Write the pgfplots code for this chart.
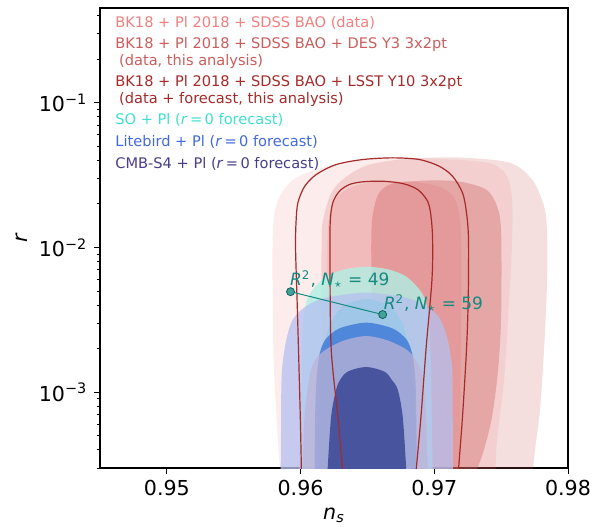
\documentclass[border=0pt]{standalone}
\usepackage{fontspec}
\setmainfont{DejaVu Sans}
\usepackage{pgfplots}
\pgfplotsset{compat=1.18}

\definecolor{bkcol}{RGB}{240,128,128}
\definecolor{descol}{RGB}{205,92,92}
\definecolor{lsstcol}{RGB}{165,42,42}
\definecolor{socol}{RGB}{64,224,208}
\definecolor{lbcol}{RGB}{65,105,225}
\definecolor{sfourcol}{RGB}{72,61,139}
\definecolor{sofill}{RGB}{176,240,228}
\definecolor{lbfill}{RGB}{180,192,240}
\definecolor{lbinner}{RGB}{60,120,215}
\definecolor{sfourfill}{RGB}{190,180,215}
\definecolor{sfourinner}{RGB}{64,76,154}
\definecolor{annot}{RGB}{20,138,128}

\newcommand{\tickfont}{\fontsize{10.3}{12}\selectfont}
\newcommand{\legfont}{\fontsize{7.3}{8.8}\selectfont}
\newcommand{\annfont}{\fontsize{8.5}{10}\selectfont}

\begin{document}
\begin{tikzpicture}
\begin{axis}[
    scale only axis, width=234pt, height=230pt,
    xmin=0.945, xmax=0.98,
    ymode=log, ymin=3e-4, ymax=0.45,
    xtick={0.95,0.96,0.97,0.98},
    xticklabels={0.95,0.96,0.97,0.98},
    ytick={1e-3,1e-2,1e-1},
    yticklabels={10\textsuperscript{−3},10\textsuperscript{−2},10\textsuperscript{−1}},
    minor ytick={3e-4,4e-4,5e-4,6e-4,7e-4,8e-4,9e-4,
                 2e-3,3e-3,4e-3,5e-3,6e-3,7e-3,8e-3,9e-3,
                 2e-2,3e-2,4e-2,5e-2,6e-2,7e-2,8e-2,9e-2,
                 2e-1,3e-1,4e-1},
    tick pos=left, tick align=outside,
    major tick length=2.8pt, minor tick length=1.6pt,
    every tick/.append style={black, line width=0.45pt},
    axis line style={line width=0.55pt},
    tick label style={font=\tickfont},
    xlabel={\textit{n}\textsubscript{\textit{s}}},
    ylabel={\textit{r}},
    every axis x label/.style={at={(axis description cs:0.5,-0.102)}, anchor=center, font=\tickfont},
    every axis y label/.style={at={(axis description cs:-0.167,0.5)}, rotate=90, anchor=center, font=\tickfont},
]

% BK18 + Pl 2018 + SDSS BAO (data), 95%
\addplot[draw=none, fill=bkcol, fill opacity=0.15, smooth] coordinates {
 (0.958507,0.00025119) (0.958209,0.00065147) (0.957985,0.0016888) (0.957910,0.0043782)
 (0.957910,0.011354) (0.958060,0.017433) (0.958433,0.022470) (0.959179,0.028068)
 (0.960149,0.031878) (0.961940,0.036192) (0.964403,0.040450) (0.966866,0.041753)
 (0.969627,0.041096) (0.972612,0.039811) (0.974478,0.037360) (0.975448,0.030881)
 (0.975821,0.021430) (0.975821,0.011354) (0.975597,0.0043782) (0.975224,0.0012293)
 (0.974701,0.00047415) (0.974552,0.00025119)};
% DES Y3, 95%
\addplot[draw=none, fill=descol, fill opacity=0.2, smooth] coordinates {
 (0.961940,0.00025119) (0.961716,0.00089474) (0.961567,0.0031878) (0.961567,0.0096874)
 (0.961642,0.014872) (0.962313,0.023950) (0.963433,0.030881) (0.965149,0.037360)
 (0.968134,0.041096) (0.971866,0.041753) (0.975597,0.038566) (0.977313,0.029437)
 (0.978209,0.019173) (0.978433,0.012689) (0.978433,0.0057362) (0.978209,0.0019791)
 (0.977910,0.00076338) (0.977537,0.00040450) (0.977313,0.00025119)};
% BK18 data, 68%
\addplot[draw=none, fill=bkcol, fill opacity=0.25, smooth] coordinates {
 (0.962164,0.00025119) (0.962015,0.00089474) (0.962015,0.0043782) (0.962015,0.011354)
 (0.962164,0.016888) (0.962687,0.022117) (0.963657,0.025934) (0.965149,0.028068)
 (0.966940,0.028517) (0.968881,0.028068) (0.970522,0.025934) (0.971493,0.022117)
 (0.971866,0.016888) (0.972015,0.011354) (0.972015,0.0031878) (0.971940,0.00089474)
 (0.971866,0.00025119)};
% DES Y3, 68%
\addplot[draw=none, fill=descol, fill opacity=0.35, smooth] coordinates {
 (0.965299,0.00025119) (0.965299,0.00089474) (0.965299,0.0043782) (0.965299,0.013310)
 (0.965522,0.019173) (0.965896,0.023950) (0.966866,0.027627) (0.969403,0.028973)
 (0.971866,0.028517) (0.973881,0.025119) (0.974701,0.019173) (0.975000,0.012689)
 (0.975000,0.0033430) (0.974776,0.0014409) (0.974328,0.00068319) (0.973731,0.00040450)
 (0.973209,0.00029437) (0.972985,0.00025119)};

% SO + Pl, 95%
\addplot[draw=none, fill=sofill, fill opacity=0.8, smooth] coordinates {
 (0.959925,0.00025119) (0.960000,0.00065147) (0.960075,0.0014409) (0.960172,0.0028517)
 (0.960425,0.0041753) (0.960918,0.0051330) (0.961918,0.0063096) (0.963284,0.0070519)
 (0.964925,0.0073596) (0.966567,0.0070519) (0.967888,0.0063096) (0.968881,0.0051330)
 (0.969381,0.0041753) (0.969627,0.0028517) (0.969754,0.0014409) (0.969813,0.00065147)
 (0.969888,0.00025119)};
% SO + Pl, 68%
\addplot[draw=none, fill=socol, fill opacity=0.7, smooth] coordinates {
 (0.961269,0.00025119) (0.961343,0.00065147) (0.961493,0.0014409) (0.961866,0.0023200)
 (0.962388,0.0031878) (0.963284,0.0039811) (0.964925,0.0044131) (0.966567,0.0039811)
 (0.967463,0.0031878) (0.967985,0.0023200) (0.968358,0.0014409) (0.968507,0.00065147)
 (0.968582,0.00025119)};
% Litebird + Pl, 95%
\addplot[draw=none, fill=lbfill, fill opacity=0.75, smooth] coordinates {
 (0.958507,0.00025119) (0.958545,0.00065147) (0.958560,0.0010487) (0.958634,0.0015184)
 (0.958933,0.0023200) (0.959425,0.0031878) (0.960425,0.0039371) (0.961918,0.0044978)
 (0.964903,0.0048710) (0.967888,0.0044978) (0.969381,0.0039371) (0.970373,0.0032746)
 (0.970993,0.0023200) (0.971321,0.0015184) (0.971366,0.0010487) (0.971381,0.00065147)
 (0.971381,0.00025119)};
% Litebird + Pl, 68%
\addplot[draw=none, fill=lbinner, fill opacity=0.8, smooth] coordinates {
 (0.961045,0.00025119) (0.961082,0.00065147) (0.961194,0.0012293) (0.961418,0.0018290)
 (0.961866,0.0023200) (0.962910,0.0027627) (0.964903,0.0030245) (0.966866,0.0027627)
 (0.967910,0.0023200) (0.968358,0.0018290) (0.968582,0.0012293) (0.968657,0.00065147)
 (0.968694,0.00025119)};
% CMB-S4 + Pl, 95%
\addplot[draw=none, fill=sfourfill, fill opacity=0.73, smooth] coordinates {
 (0.960149,0.00025119) (0.960172,0.00031028) (0.960299,0.00068646) (0.960672,0.0012954)
 (0.961119,0.0016888) (0.961918,0.0019791) (0.963284,0.0022835) (0.964903,0.0024450)
 (0.966493,0.0022835) (0.967888,0.0019791) (0.968582,0.0016888) (0.969127,0.0012954)
 (0.969381,0.00068646) (0.969500,0.00031028) (0.969515,0.00025119)};
% CMB-S4 + Pl, 68%
\addplot[draw=none, fill=sfourinner, fill opacity=0.9, smooth] coordinates {
 (0.962015,0.00025119) (0.962037,0.00031028) (0.962291,0.00068646) (0.962664,0.0010487)
 (0.962985,0.0012293) (0.963410,0.0013674) (0.964104,0.0014524) (0.964903,0.0014945)
 (0.965672,0.0014524) (0.966396,0.0013674) (0.966791,0.0012293) (0.967261,0.0010487)
 (0.967634,0.00068646) (0.967888,0.00031028) (0.967910,0.00025119)};

% LSST Y10 forecast contours (lines)
\addplot[lsstcol, line width=0.6pt, smooth] coordinates {
 (0.960075,0.00025119) (0.959978,0.00068319) (0.959776,0.0033430) (0.959627,0.0096874)
 (0.959664,0.015110) (0.959799,0.020335) (0.960299,0.026349) (0.961172,0.031878)
 (0.962664,0.037360) (0.964649,0.040450) (0.966888,0.041555) (0.968881,0.040450)
 (0.970373,0.036365) (0.971366,0.031028) (0.972112,0.023836) (0.972410,0.017350)
 (0.972560,0.011354) (0.972537,0.0043782) (0.972410,0.0019791) (0.972112,0.00068319)
 (0.971754,0.00025119)};
\addplot[lsstcol, line width=0.6pt, smooth] coordinates {
 (0.963209,0.00025119) (0.962784,0.00068319) (0.962291,0.0019791) (0.962201,0.0070519)
 (0.962216,0.014801) (0.962410,0.020335) (0.962910,0.024450) (0.963657,0.027192)
 (0.964649,0.028381) (0.966142,0.028653) (0.967634,0.027627) (0.968754,0.025119)
 (0.969500,0.020858) (0.969754,0.016438) (0.969873,0.011354) (0.969828,0.0060156)
 (0.969381,0.0019791) (0.969007,0.00068319) (0.968582,0.00025119)};

% R^2 model predictions
\addplot[annot, line width=0.5pt, mark=*, mark size=2pt,
  mark options={fill=annot!80, draw=annot!70!black, line width=0.4pt}] coordinates {
 (0.95925,0.00495) (0.96614,0.00344)};
\node[anchor=base west, text=annot, font=\annfont, inner sep=0pt] at (axis cs:0.95919,0.0054695)
  {\textit{R}\textsuperscript{2}, \textit{N}\textsubscript{$\star$} = 49};
\node[anchor=base west, text=annot, font=\annfont, inner sep=0pt] at (axis cs:0.966194,0.0037365)
  {\textit{R}\textsuperscript{2}, \textit{N}\textsubscript{$\star$} = 59};

% legend (coloured text)
\node[anchor=base west, text=bkcol, font=\legfont, inner sep=0pt] at (axis description cs:0.032,0.957) {BK18 + Pl 2018 + SDSS BAO (data)};
\node[anchor=base west, text=descol, font=\legfont, inner sep=0pt] at (axis description cs:0.032,0.911) {BK18 + Pl 2018 + SDSS BAO + DES Y3 3x2pt};
\node[anchor=base west, text=descol, font=\legfont, inner sep=0pt] at (axis description cs:0.040,0.875) {(data, this analysis)};
\node[anchor=base west, text=lsstcol, font=\legfont, inner sep=0pt] at (axis description cs:0.032,0.829) {BK18 + Pl 2018 + SDSS BAO + LSST Y10 3x2pt};
\node[anchor=base west, text=lsstcol, font=\legfont, inner sep=0pt] at (axis description cs:0.040,0.792) {(data + forecast, this analysis)};
\node[anchor=base west, text=socol, font=\legfont, inner sep=0pt] at (axis description cs:0.032,0.746) {SO + Pl (\textit{r}\,=\,0 forecast)};
\node[anchor=base west, text=lbcol, font=\legfont, inner sep=0pt] at (axis description cs:0.032,0.698) {Litebird + Pl (\textit{r}\,=\,0 forecast)};
\node[anchor=base west, text=sfourcol, font=\legfont, inner sep=0pt] at (axis description cs:0.032,0.652) {CMB-S4 + Pl (\textit{r}\,=\,0 forecast)};
\end{axis}
\pgfresetboundingbox
\path (current axis.south west) ++(-50pt,-31.5pt) rectangle ++(305pt,265.5pt);
\end{tikzpicture}
\end{document}
